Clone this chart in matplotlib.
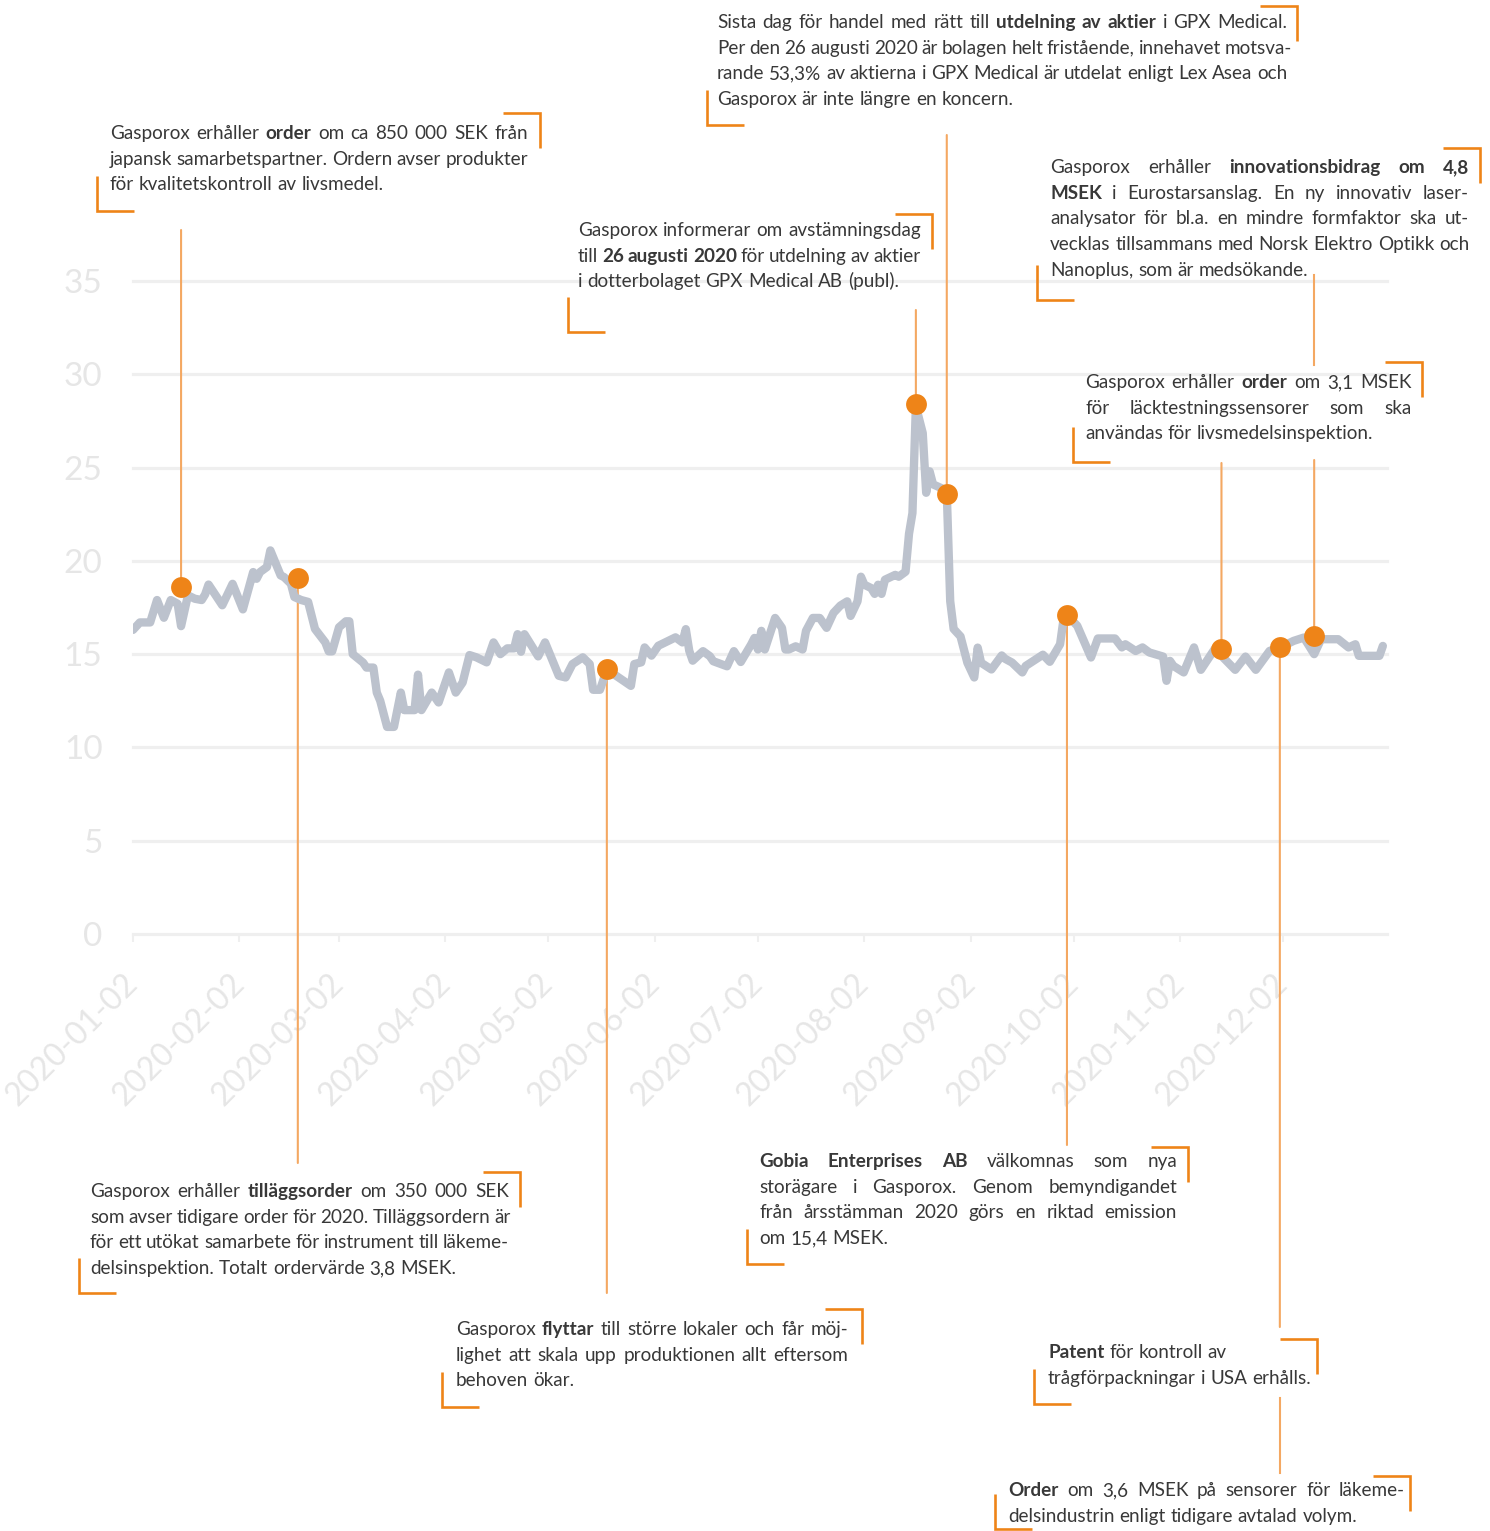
import matplotlib
matplotlib.use('Agg')
import matplotlib.pyplot as plt
import matplotlib.dates as mdates
from matplotlib.lines import Line2D
from matplotlib.transforms import IdentityTransform, blended_transform_factory
import pandas as pd

plt.rcParams['font.family'] = ['Lato', 'DejaVu Sans']

# share price
price_dates = [
    '2020-01-02', '2020-01-04', '2020-01-07', '2020-01-09', '2020-01-11', '2020-01-13', '2020-01-15',
    '2020-01-16', '2020-01-18', '2020-01-20', '2020-01-22', '2020-01-23', '2020-01-24', '2020-01-28',
    '2020-01-31', '2020-02-03', '2020-02-06', '2020-02-07', '2020-02-08', '2020-02-10', '2020-02-11',
    '2020-02-14', '2020-02-15', '2020-02-17', '2020-02-18', '2020-02-20', '2020-02-22', '2020-02-24',
    '2020-02-27', '2020-02-28', '2020-02-29', '2020-03-02', '2020-03-04', '2020-03-05', '2020-03-06',
    '2020-03-09', '2020-03-10', '2020-03-12', '2020-03-13', '2020-03-14', '2020-03-16', '2020-03-18',
    '2020-03-20', '2020-03-21', '2020-03-24', '2020-03-25', '2020-03-26', '2020-03-29', '2020-03-31',
    '2020-04-03', '2020-04-05', '2020-04-07', '2020-04-09', '2020-04-11', '2020-04-14', '2020-04-16',
    '2020-04-18', '2020-04-20', '2020-04-22', '2020-04-23', '2020-04-24', '2020-04-25', '2020-04-29',
    '2020-05-01', '2020-05-05', '2020-05-07', '2020-05-09', '2020-05-12', '2020-05-14', '2020-05-15',
    '2020-05-17', '2020-05-19', '2020-05-21', '2020-05-26', '2020-05-27', '2020-05-29', '2020-05-30',
    '2020-06-01', '2020-06-03', '2020-06-05', '2020-06-08', '2020-06-10', '2020-06-11', '2020-06-12',
    '2020-06-13', '2020-06-16', '2020-06-18', '2020-06-19', '2020-06-23', '2020-06-25', '2020-06-27',
    '2020-06-30', '2020-07-01', '2020-07-02', '2020-07-03', '2020-07-04', '2020-07-07', '2020-07-09',
    '2020-07-10', '2020-07-11', '2020-07-13', '2020-07-15', '2020-07-16', '2020-07-18', '2020-07-20',
    '2020-07-22', '2020-07-24', '2020-07-26', '2020-07-28', '2020-07-29', '2020-07-31', '2020-08-01',
    '2020-08-02', '2020-08-04', '2020-08-05', '2020-08-06', '2020-08-07', '2020-08-08', '2020-08-11',
    '2020-08-12', '2020-08-14', '2020-08-15', '2020-08-16', '2020-08-17', '2020-08-19', '2020-08-20',
    '2020-08-21', '2020-08-22', '2020-08-25', '2020-08-26', '2020-08-27', '2020-08-28', '2020-08-30',
    '2020-09-01', '2020-09-03', '2020-09-04', '2020-09-05', '2020-09-08', '2020-09-11', '2020-09-12',
    '2020-09-14', '2020-09-17', '2020-09-18', '2020-09-23', '2020-09-25', '2020-09-28', '2020-09-29',
    '2020-09-30', '2020-10-03', '2020-10-07', '2020-10-09', '2020-10-14', '2020-10-16', '2020-10-17',
    '2020-10-20', '2020-10-22', '2020-10-24', '2020-10-28', '2020-10-29', '2020-10-30', '2020-10-31',
    '2020-11-03', '2020-11-06', '2020-11-08', '2020-11-12', '2020-11-14', '2020-11-18', '2020-11-21',
    '2020-11-24', '2020-11-28', '2020-12-02', '2020-12-05', '2020-12-08', '2020-12-11', '2020-12-13',
    '2020-12-18', '2020-12-21', '2020-12-23', '2020-12-24', '2020-12-30', '2020-12-31',
]
price_values = [
    16.3, 16.7, 16.7, 17.9, 16.95, 17.9, 17.7,
    16.5, 18.15, 17.97, 17.9, 18.2, 18.73, 17.62,
    18.77, 17.4, 19.4, 19.04, 19.4, 19.67, 20.56,
    19.22, 19.13, 18.77, 18.06, 17.9, 17.8, 16.35,
    15.63, 15.15, 15.15, 16.44, 16.76, 16.76, 15.0,
    14.55, 14.28, 14.28, 12.94, 12.5, 11.1, 11.1,
    12.94, 12.0, 12.0, 13.9, 12.0, 12.94, 12.41,
    14.02, 12.94, 13.48, 14.95, 14.83, 14.56, 15.63,
    15.0, 15.31, 15.31, 16.07, 15.13, 16.07, 14.88,
    15.63, 13.84, 13.75, 14.47, 14.83, 14.47, 13.09,
    13.09, 14.16, 13.93, 13.3, 14.47, 14.56, 15.36,
    14.92, 15.45, 15.63, 15.9, 15.63, 16.34, 15.18,
    14.65, 15.16, 14.89, 14.62, 14.35, 15.16, 14.58,
    15.51, 15.87, 15.25, 16.25, 15.25, 16.94, 16.41,
    15.25, 15.25, 15.42, 15.25, 16.25, 16.94, 16.94,
    16.41, 17.21, 17.6, 17.83, 17.05, 17.83, 19.15,
    18.72, 18.54, 18.23, 18.72, 18.23, 18.99, 19.25,
    19.15, 19.42, 21.45, 22.56, 28.29, 26.85, 23.65,
    24.8, 24.1, 23.85, 23.65, 17.84, 16.35, 15.95,
    14.54, 13.75, 15.35, 14.54, 14.18, 14.93, 14.75,
    14.55, 14.02, 14.37, 14.97, 14.59, 15.53, 16.87,
    17.1, 16.52, 14.82, 15.84, 15.84, 15.36, 15.53,
    15.17, 15.36, 15.09, 14.87, 13.57, 14.64, 14.37,
    14.02, 15.36, 14.16, 15.27, 14.91, 14.16, 14.87,
    14.16, 15.17, 15.44, 15.71, 15.89, 15.0, 15.8,
    15.8, 15.36, 15.53, 14.91, 14.91, 15.44,
]

# news events marked with dots
event_dates = ['2020-01-16', '2020-02-19', '2020-05-19', '2020-08-17', '2020-08-26',
               '2020-09-30', '2020-11-14', '2020-12-01', '2020-12-11']
event_values = [18.6, 19.1, 14.2, 28.4, 23.6, 17.1, 15.3, 15.4, 15.95]

y_ticks = [0, 5, 10, 15, 20, 25, 30, 35]
x_tick_dates = ['2020-01-02', '2020-02-02', '2020-03-02', '2020-04-02', '2020-05-02', '2020-06-02',
                '2020-07-02', '2020-08-02', '2020-09-02', '2020-10-02', '2020-11-02', '2020-12-02']

# note texts, **word** = bold
notes = [
    ['Gasporox erhåller **order** om ca 850 000 SEK från',
     'japansk samarbetspartner. Ordern avser produkter',
     'för kvalitetskontroll av livsmedel.'],
    ['Sista dag för handel med rätt till **utdelning av aktier** i GPX Medical.',
     'Per den 26 augusti 2020 är bolagen helt fristående, innehavet motsva-',
     'rande 53,3% av aktierna i GPX Medical är utdelat enligt Lex Asea och',
     'Gasporox är inte längre en koncern.'],
    ['Gasporox informerar om avstämningsdag',
     'till **26 augusti 2020** för utdelning av aktier',
     'i dotterbolaget GPX Medical AB (publ).'],
    ['Gasporox erhåller **innovationsbidrag om 4,8**',
     '**MSEK** i Eurostarsanslag. En ny innovativ laser-',
     'analysator för bl.a. en mindre formfaktor ska ut-',
     'vecklas tillsammans med Norsk Elektro Optikk och',
     'Nanoplus, som är medsökande.'],
    ['Gasporox erhåller **order** om 3,1 MSEK',
     'för läcktestningssensorer som ska',
     'användas för livsmedelsinspektion.'],
    ['Gasporox erhåller **tilläggsorder** om 350 000 SEK',
     'som avser tidigare order för 2020. Tilläggsordern är',
     'för ett utökat samarbete för instrument till läkeme-',
     'delsinspektion. Totalt ordervärde 3,8 MSEK.'],
    ['Gasporox **flyttar** till större lokaler och får möj-',
     'lighet att skala upp produktionen allt eftersom',
     'behoven ökar.'],
    ['**Gobia Enterprises AB** välkomnas som nya',
     'storägare i Gasporox. Genom bemyndigandet',
     'från årsstämman 2020 görs en riktad emission',
     'om 15,4 MSEK.'],
    ['**Patent** för kontroll av',
     'trågförpackningar i USA erhålls.'],
    ['**Order** om 3,6 MSEK på sensorer för läkeme-',
     'delsindustrin enligt tidigare avtalad volym.'],
]

# layout in picture pixels: text left, first line centre, text right, justified,
# bracket corners (left, top, right, bottom)
note_boxes = [
    (110, 134, 528, True, (97, 113, 540, 211)),
    (717, 23, 1287, True, (707, 6, 1297, 125)),
    (578, 231, 921, True, (568, 214, 932, 332)),
    (1050, 168, 1469, True, (1037, 148, 1480, 300)),
    (1085, 383, 1412, True, (1073, 362, 1422, 462)),
    (90, 1192, 509, True, (79, 1172, 520, 1293)),
    (456, 1330, 848, True, (442, 1309, 862, 1407)),
    (759, 1162, 1177, True, (747, 1147, 1188, 1264)),
    (1048, 1353, 1307, False, (1034, 1339, 1317, 1404)),
    (1008, 1491, 1405, True, (995, 1476, 1410, 1529)),
]
# where each leader line from a dot ends (picture y), plus loose pieces
leader_ends = [230, 1163, 1293, 310, 135, 1145, 463, 1327, 460]
leader_pieces = [(7, 1398, 1473), (8, 275, 365)]

W, H = 1490, 1531
LINE = '#bcc2cd'
ORANGE = '#ee8418'
LEADER = '#f4a862'
GRID = '#efefef'
TICKTXT = '#e6e6e6'
TXT = '#383838'
FS = 13.6
LS = 25.7

fig = plt.figure(figsize=(W / 100, H / 100), dpi=100)
ax = fig.add_axes([133 / W, 1 - 934 / H, 1254 / W, 35.3 * 18.657 / H])
ax.set_axisbelow(True)

px = pd.to_datetime(price_dates)
ax.plot(px, price_values, color=LINE, lw=6, solid_joinstyle='round',
        solid_capstyle='round', zorder=2)

ev_x = mdates.date2num(pd.to_datetime(event_dates))
ax.plot(ev_x, event_values, 'o', color=ORANGE, ms=15, mec='none', zorder=3)

ax.set_xlim(pd.Timestamp('2020-01-02'), pd.Timestamp('2021-01-01 05:00'))
ax.set_ylim(0, 35.3)
ax.set_yticks(y_ticks)
ax.set_xticks(pd.to_datetime(x_tick_dates))
ax.set_xticklabels(x_tick_dates)
ax.grid(axis='y', color=GRID, lw=2.3)
for gl in ax.get_ygridlines():
    gl.set_clip_on(False)
for s in ax.spines.values():
    s.set_visible(False)
ax.tick_params(axis='y', length=0, pad=22, labelsize=24, labelcolor=TICKTXT)
ax.tick_params(axis='x', length=6, width=1.5, color=GRID, pad=26,
               labelsize=23, labelcolor=TICKTXT)
plt.setp(ax.get_xticklabels(), rotation=45, ha='right', va='center',
         rotation_mode='anchor')

# leader lines
blend = blended_transform_factory(ax.transData, IdentityTransform())
for x, v, y in zip(ev_x, event_values, leader_ends):
    ax.annotate('', xy=(x, v), xycoords='data', xytext=(x, H - y), textcoords=blend,
                arrowprops=dict(arrowstyle='-', color=LEADER, lw=1.5,
                                shrinkA=0, shrinkB=0),
                annotation_clip=False, zorder=1.5)
for i, y1, y2 in leader_pieces:
    ax.plot([ev_x[i], ev_x[i]], [H - y1, H - y2], color=LEADER, lw=1.5,
            transform=blend, clip_on=False, zorder=1.5)

renderer = fig.canvas.get_renderer()
pxt = IdentityTransform()


def width_of(s, bold=False):
    t = fig.text(0, 0, s, fontsize=FS, fontweight='bold' if bold else 'normal',
                 transform=pxt)
    w = t.get_window_extent(renderer).width
    t.remove()
    return w


space = width_of('n n') - width_of('nn')


def parse(line):
    out = []
    bold = False
    for w in line.split(' '):
        if w.startswith('**'):
            bold = True
            w = w[2:]
        wb = bold
        if w.endswith('**'):
            w = w[:-2]
            bold = False
        out.append((w, wb))
    return out


def put_note(lines, left, top, right, justify):
    for i, line in enumerate(lines):
        words = parse(line)
        items = []
        for w, b in words:
            t = fig.text(0, 0, w, fontsize=FS, fontweight='bold' if b else 'normal',
                         color=TXT, ha='left', va='baseline', transform=pxt)
            items.append((t, t.get_window_extent(renderer).width))
        total = sum(wd for _, wd in items)
        gap = space
        if justify and i < len(lines) - 1 and len(items) > 1:
            gap = max((right - left - total) / (len(items) - 1), space * 0.8)
        x = left
        yb = H - (top + i * LS + 5)
        for t, wd in items:
            t.set_position((x, yb))
            x += wd + gap


def bracket(l, t, r, b, arm_h=37, arm_v=35):
    fig.add_artist(Line2D([r - arm_h, r, r], [H - t, H - t, H - t - arm_v],
                          color=ORANGE, lw=1.9, transform=pxt,
                          solid_joinstyle='miter', solid_capstyle='butt'))
    fig.add_artist(Line2D([l, l, l + arm_h], [H - b + arm_v, H - b, H - b],
                          color=ORANGE, lw=1.9, transform=pxt,
                          solid_joinstyle='miter', solid_capstyle='butt'))


for lines, (left, top, right, just, corners) in zip(notes, note_boxes):
    put_note(lines, left, top, right, just)
    bracket(*corners)

fig.savefig('out.png', dpi=100)
